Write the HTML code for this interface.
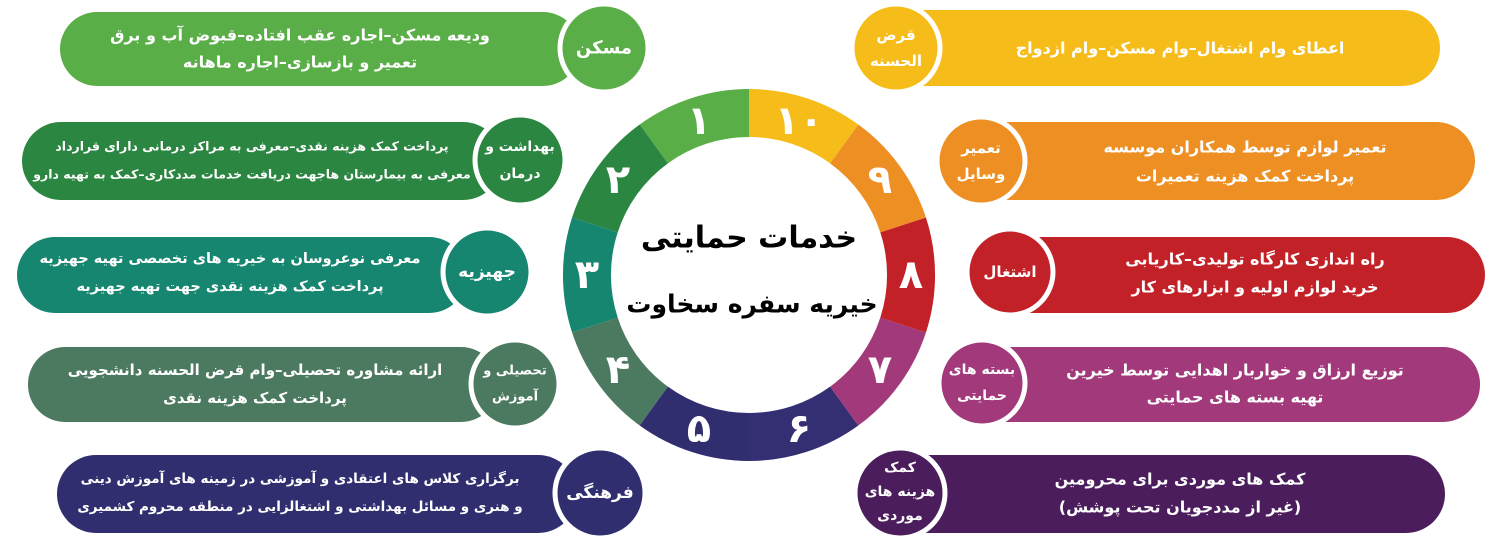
<!DOCTYPE html>
<html><head><meta charset="utf-8"><style>
html,body{margin:0;padding:0;background:#fff;}
svg{display:block;}
text{font-family:"DejaVu Sans","Liberation Sans",sans-serif;font-weight:bold;}
.w{fill:#fff;text-anchor:middle;dominant-baseline:central;}
.p{font-size:15px;}
.c{font-size:15px;}
.n{font-size:40px;}
</style></head><body>
<svg width="1500" height="540" viewBox="0 0 1500 540" xmlns="http://www.w3.org/2000/svg">
<rect x="60" y="12" width="520" height="74" rx="37" fill="#5aae47"/>
<circle cx="604" cy="48" r="44" fill="#5aae47" stroke="#fff" stroke-width="5"/>
<text class="w p" x="300" y="35" direction="rtl" style="font-size:16px">ودیعه مسکن–اجاره عقب افتاده–قبوض آب و برق</text>
<text class="w p" x="300" y="62" direction="rtl" style="font-size:16px">تعمیر و بازسازی–اجاره ماهانه</text>
<text class="w c" x="604" y="48" direction="rtl" style="font-size:18px">مسکن</text>

<rect x="22" y="122" width="480" height="78" rx="39" fill="#2a8641"/>
<circle cx="520" cy="160" r="45" fill="#2a8641" stroke="#fff" stroke-width="5"/>
<text class="w p" x="252" y="146" direction="rtl" style="font-size:12.5px">پرداخت کمک هزینه نقدی–معرفی به مراکز درمانی دارای قرارداد</text>
<text class="w p" x="252" y="174" direction="rtl" style="font-size:12.5px">معرفی به بیمارستان هاجهت دریافت خدمات مددکاری–کمک به تهیه دارو</text>
<text class="w c" x="520" y="147" direction="rtl" style="font-size:14px">بهداشت و</text>
<text class="w c" x="520" y="174" direction="rtl" style="font-size:14px">درمان</text>

<rect x="17" y="237" width="450" height="76" rx="38" fill="#178670"/>
<circle cx="487" cy="272" r="44" fill="#178670" stroke="#fff" stroke-width="5"/>
<text class="w p" x="230" y="259" direction="rtl" style="font-size:14.5px">معرفی نوعروسان به خیریه های تخصصی تهیه جهیزیه</text>
<text class="w p" x="230" y="287" direction="rtl" style="font-size:14.5px">پرداخت کمک هزینه نقدی جهت تهیه جهیزیه</text>
<text class="w c" x="487" y="272" direction="rtl" style="font-size:17px">جهیزیه</text>

<rect x="28" y="347" width="470" height="75" rx="37" fill="#4c7a60"/>
<circle cx="515" cy="384" r="44" fill="#4c7a60" stroke="#fff" stroke-width="5"/>
<text class="w p" x="255" y="370" direction="rtl">ارائه مشاوره تحصیلی–وام قرض الحسنه دانشجویی</text>
<text class="w p" x="255" y="398" direction="rtl">پرداخت کمک هزینه نقدی</text>
<text class="w c" x="515" y="371" direction="rtl" style="font-size:13px">تحصیلی و</text>
<text class="w c" x="515" y="397" direction="rtl" style="font-size:13px">آموزش</text>

<rect x="57" y="455" width="520" height="78" rx="39" fill="#312e70"/>
<circle cx="600" cy="493" r="45" fill="#312e70" stroke="#fff" stroke-width="5"/>
<text class="w p" x="300" y="479" direction="rtl" style="font-size:13.5px">برگزاری کلاس های اعتقادی و آموزشی در زمینه های آموزش دینی</text>
<text class="w p" x="300" y="507" direction="rtl" style="font-size:13.5px">و هنری و مسائل بهداشتی و اشتغالزایی در منطقه محروم کشمیری</text>
<text class="w c" x="600" y="493" direction="rtl" style="font-size:17px">فرهنگی</text>

<rect x="880" y="10" width="560" height="76" rx="38" fill="#f6bd1a"/>
<circle cx="896" cy="48" r="44" fill="#f6bd1a" stroke="#fff" stroke-width="5"/>
<text class="w p" x="1180" y="48" direction="rtl" style="font-size:16px">اعطای وام اشتغال–وام مسکن–وام ازدواج</text>
<text class="w c" x="896" y="35" direction="rtl">قرض</text>
<text class="w c" x="896" y="61" direction="rtl">الحسنه</text>

<rect x="960" y="122" width="515" height="78" rx="39" fill="#ee8f23"/>
<circle cx="981" cy="161" r="44" fill="#ee8f23" stroke="#fff" stroke-width="5"/>
<text class="w p" x="1245" y="147" direction="rtl" style="font-size:16px">تعمیر لوازم توسط همکاران موسسه</text>
<text class="w p" x="1245" y="176" direction="rtl" style="font-size:16px">پرداخت کمک هزینه تعمیرات</text>
<text class="w c" x="981" y="148" direction="rtl">تعمیر</text>
<text class="w c" x="981" y="174" direction="rtl">وسایل</text>

<rect x="985" y="237" width="500" height="76" rx="38" fill="#c32128"/>
<circle cx="1010" cy="272" r="43" fill="#c32128" stroke="#fff" stroke-width="5"/>
<text class="w p" x="1255" y="259" direction="rtl" style="font-size:16px">راه اندازی کارگاه تولیدی–کاریابی</text>
<text class="w p" x="1255" y="287" direction="rtl" style="font-size:16px">خرید لوازم اولیه و ابزارهای کار</text>
<text class="w c" x="1010" y="272" direction="rtl">اشتغال</text>

<rect x="960" y="347" width="520" height="75" rx="37" fill="#a1397a"/>
<circle cx="982" cy="383" r="43" fill="#a1397a" stroke="#fff" stroke-width="5"/>
<text class="w p" x="1235" y="370" direction="rtl" style="font-size:16px">توزیع ارزاق و خواربار اهدایی توسط خیرین</text>
<text class="w p" x="1235" y="397" direction="rtl" style="font-size:16px">تهیه بسته های حمایتی</text>
<text class="w c" x="982" y="370" direction="rtl" style="font-size:14px">بسته های</text>
<text class="w c" x="982" y="396" direction="rtl" style="font-size:14px">حمایتی</text>

<rect x="870" y="455" width="575" height="78" rx="39" fill="#4b1d5c"/>
<circle cx="900" cy="493" r="45" fill="#4b1d5c" stroke="#fff" stroke-width="5"/>
<text class="w p" x="1180" y="479" direction="rtl" style="font-size:16px">کمک های موردی برای محرومین</text>
<text class="w p" x="1180" y="507" direction="rtl" style="font-size:16px">(غیر از مددجویان تحت پوشش)</text>
<text class="w c" x="900" y="468" direction="rtl" style="font-size:14px">کمک</text>
<text class="w c" x="900" y="492" direction="rtl" style="font-size:14px">هزینه های</text>
<text class="w c" x="900" y="516" direction="rtl" style="font-size:14px">موردی</text>

<g fill="none" stroke-width="48">
<path d="M653.8,143.9 A162,162 0 0 1 749,113" stroke="#5aae47"/>
<path d="M594.9,224.9 A162,162 0 0 1 653.8,143.9" stroke="#2a8641"/>
<path d="M594.9,325.1 A162,162 0 0 1 594.9,224.9" stroke="#178670"/>
<path d="M653.8,406.1 A162,162 0 0 1 594.9,325.1" stroke="#4c7a60"/>
<path d="M749,437 A162,162 0 0 1 653.8,406.1" stroke="#312e70"/>
<path d="M844.2,406.1 A162,162 0 0 1 749,437" stroke="#332f72"/>
<path d="M903.1,325.1 A162,162 0 0 1 844.2,406.1" stroke="#a1397a"/>
<path d="M903.1,224.9 A162,162 0 0 1 903.1,325.1" stroke="#c32128"/>
<path d="M844.2,143.9 A162,162 0 0 1 903.1,224.9" stroke="#ee8f23"/>
<path d="M749,113 A162,162 0 0 1 844.2,143.9" stroke="#f6bd1a"/>
</g>
<text class="w n" x="699" y="121">۱</text>
<text class="w n" x="618" y="180">۲</text>
<text class="w n" x="587" y="275">۳</text>
<text class="w n" x="618" y="370">۴</text>
<text class="w n" x="699" y="429">۵</text>
<text class="w n" x="799" y="429">۶</text>
<text class="w n" x="880" y="370">۷</text>
<text class="w n" x="911" y="275">۸</text>
<text class="w n" x="880" y="180">۹</text>
<text class="w n" x="799" y="121">۱۰</text>
<text x="749" y="238" text-anchor="middle" dominant-baseline="central" direction="rtl" style="font-size:30px;fill:#000">خدمات حمایتی</text>
<text x="752" y="304" text-anchor="middle" dominant-baseline="central" direction="rtl" style="font-size:25px;fill:#000">خیریه سفره سخاوت</text>
</svg>
</body></html>
